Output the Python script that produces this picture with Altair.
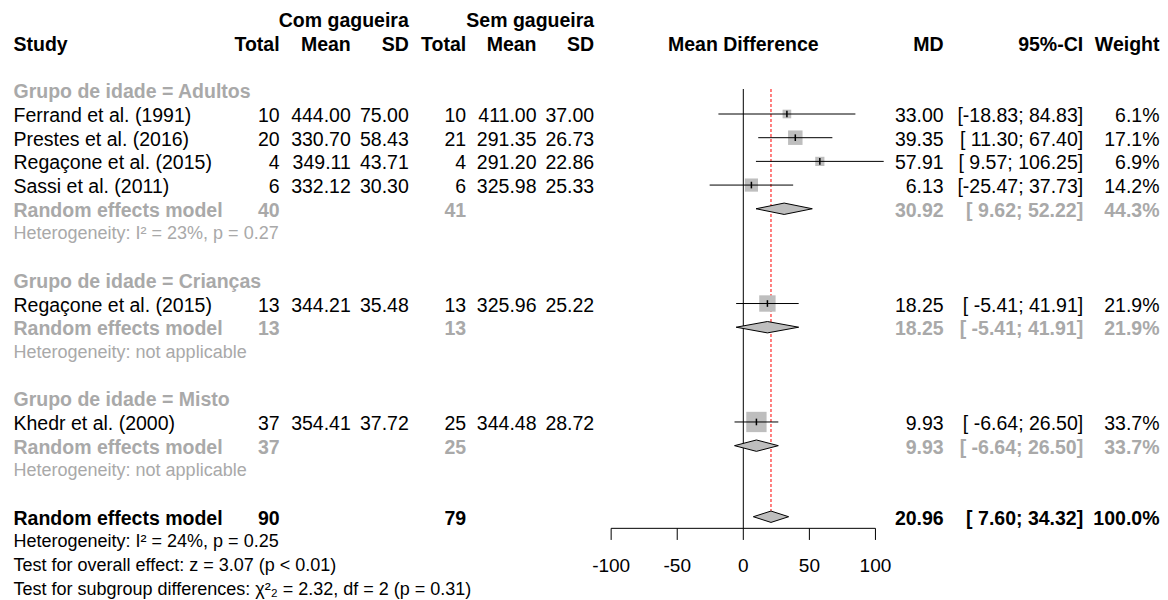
import altair as alt
import pandas as pd

# ---------------- data ----------------
study = ["Ferrand et al. (1991)", "Prestes et al. (2016)", "Regaçone et al. (2015)",
         "Sassi et al. (2011)", "Regaçone et al. (2015)", "Khedr et al. (2000)"]
study_group = ["Adultos", "Adultos", "Adultos", "Adultos", "Crianças", "Misto"]
n_e = [10, 20, 4, 6, 13, 37]
mean_e = [444.00, 330.70, 349.11, 332.12, 344.21, 354.41]
sd_e = [75.00, 58.43, 43.71, 30.30, 35.48, 37.72]
n_c = [10, 21, 4, 6, 13, 25]
mean_c = [411.00, 291.35, 291.20, 325.98, 325.96, 344.48]
sd_c = [37.00, 26.73, 22.86, 25.33, 25.22, 28.72]
md = [33.00, 39.35, 57.91, 6.13, 18.25, 9.93]
ci_lo = [-18.83, 11.30, 9.57, -25.47, -5.41, -6.64]
ci_hi = [84.83, 67.40, 106.25, 37.73, 41.91, 26.50]
weight = [6.1, 17.1, 6.9, 14.2, 21.9, 33.7]

groups = ["Adultos", "Crianças", "Misto"]
sub_ne = [40, 13, 37]
sub_nc = [41, 13, 25]
sub_md = [30.92, 18.25, 9.93]
sub_lo = [9.62, -5.41, -6.64]
sub_hi = [52.22, 41.91, 26.50]
sub_w = [44.3, 21.9, 33.7]
sub_het = ["Heterogeneity: I² = 23%, p = 0.27",
           "Heterogeneity: not applicable",
           "Heterogeneity: not applicable"]

all_ne, all_nc = 90, 79
all_md, all_lo, all_hi, all_w = 20.96, 7.60, 34.32, 100.0
footer = ["Heterogeneity: I² = 24%, p = 0.25",
          "Test for overall effect: z = 3.07 (p < 0.01)",
          "Test for subgroup differences: χ²₂ = 2.32, df = 2 (p = 0.31)"]

axis_ticks = [-100, -50, 0, 50, 100]

# ---------------- layout / style ----------------
W, H = 1152, 592
FONT = "Liberation Sans"
FS, FS_SMALL, FS_AXIS = 19.5, 18, 19
TEXT_DY = 2
BLACK, GRAY_TXT, SQ_GRAY = "#000000", "#A9A9A9", "#BEBEBE"

ROW0_PX, ROW_PX = 11.24, 23.69          # pixel position of row 0, row pitch
X0_PX, X_UNIT = 735.3, 1.3215            # pixel of MD = 0, px per MD unit
y_dom = [-ROW0_PX / ROW_PX, (H - ROW0_PX) / ROW_PX]
x_dom = [-X0_PX / X_UNIT, (W - X0_PX) / X_UNIT]
YS = alt.Scale(domain=y_dom, reverse=True, nice=False, zero=False)
XS = alt.Scale(domain=x_dom, nice=False, zero=False)

COLS = {  # column -> (x px, align)
    "study": (5.5, "left"), "ne": (271.6, "right"), "me": (342.8, "right"),
    "se": (400.8, "right"), "nc": (458.2, "right"), "mc": (528.5, "right"),
    "sc": (586.2, "right"), "plot": (X0_PX, "center"), "md": (935.7, "right"),
    "ci": (1075.2, "right"), "w": (1151.5, "right"),
}
STYLES = {  # style -> (bold, color, size)
    "head": (True, BLACK, FS), "study": (False, BLACK, FS),
    "group": (True, GRAY_TXT, FS), "rem_sub": (True, GRAY_TXT, FS),
    "het_sub": (False, GRAY_TXT, FS_SMALL), "rem_all": (True, BLACK, FS),
    "foot": (False, BLACK, FS_SMALL),
}


def ci_txt(lo, hi):
    return f"[{lo:6.2f}; {hi:6.2f}]"


cells = []
def cell(row, col, text, style):
    cells.append({"row": row, "col": col, "text": text, "style": style})

# headers
cell(0, "se", "Com gagueira", "head")
cell(0, "sc", "Sem gagueira", "head")
for c, t in [("study", "Study"), ("ne", "Total"), ("me", "Mean"), ("se", "SD"),
             ("nc", "Total"), ("mc", "Mean"), ("sc", "SD"), ("plot", "Mean Difference"),
             ("md", "MD"), ("ci", "95%-CI"), ("w", "Weight")]:
    cell(1, c, t, "head")

study_rows, diamonds = [], []
r = 3
first_row = r
for gi, g in enumerate(groups):
    cell(r, "study", f"Grupo de idade = {g}", "group")
    r += 1
    for i in range(len(study)):
        if study_group[i] != g:
            continue
        cell(r, "study", study[i], "study")
        cell(r, "ne", f"{n_e[i]}", "study")
        cell(r, "me", f"{mean_e[i]:.2f}", "study")
        cell(r, "se", f"{sd_e[i]:.2f}", "study")
        cell(r, "nc", f"{n_c[i]}", "study")
        cell(r, "mc", f"{mean_c[i]:.2f}", "study")
        cell(r, "sc", f"{sd_c[i]:.2f}", "study")
        cell(r, "md", f"{md[i]:.2f}", "study")
        cell(r, "ci", ci_txt(ci_lo[i], ci_hi[i]), "study")
        cell(r, "w", f"{weight[i]:.1f}%", "study")
        study_rows.append({"row": r, "md": md[i], "lo": ci_lo[i], "hi": ci_hi[i], "weight": weight[i]})
        r += 1
    cell(r, "study", "Random effects model", "rem_sub")
    cell(r, "ne", f"{sub_ne[gi]}", "rem_sub")
    cell(r, "nc", f"{sub_nc[gi]}", "rem_sub")
    cell(r, "md", f"{sub_md[gi]:.2f}", "rem_sub")
    cell(r, "ci", ci_txt(sub_lo[gi], sub_hi[gi]), "rem_sub")
    cell(r, "w", f"{sub_w[gi]:.1f}%", "rem_sub")
    diamonds.append((f"g{gi}", r, sub_lo[gi], sub_md[gi], sub_hi[gi]))
    r += 1
    cell(r, "study", sub_het[gi], "het_sub")
    r += 2

overall_row = r
cell(r, "study", "Random effects model", "rem_all")
cell(r, "ne", f"{all_ne}", "rem_all")
cell(r, "nc", f"{all_nc}", "rem_all")
cell(r, "md", f"{all_md:.2f}", "rem_all")
cell(r, "ci", ci_txt(all_lo, all_hi), "rem_all")
cell(r, "w", f"{all_w:.1f}%", "rem_all")
diamonds.append(("all", r, all_lo, all_md, all_hi))
for k, t in enumerate(footer):
    cell(r + 1 + k, "study", t, "foot")

cells_df = pd.DataFrame(cells)
Y_ROW = alt.Y("row:Q", scale=YS, axis=None)

layers = []
for (col, sty), sub in cells_df.groupby(["col", "style"]):
    xpx, align = COLS[col]
    bold, color, size = STYLES[sty]
    layers.append(
        alt.Chart(sub).mark_text(align=align, baseline="middle", font=FONT, fontSize=size,
                                 fontWeight="bold" if bold else "normal", color=color,
                                 dy=TEXT_DY)
        .encode(x=alt.value(xpx), y=Y_ROW, text="text:N")
    )

# ---------------- forest part ----------------
axis_row = overall_row + 0.49
tick_end = overall_row + 0.98
label_row = overall_row + 2.08
line_top = first_row - 0.055

zero_df = pd.DataFrame({"x": [0], "y1": [line_top], "y2": [axis_row]})
layers.append(alt.Chart(zero_df).mark_rule(color=BLACK, strokeWidth=1).encode(
    x=alt.X("x:Q", scale=XS, axis=None), y=alt.Y("y1:Q", scale=YS, axis=None), y2="y2:Q"))

ref_df = pd.DataFrame({"x": [all_md], "y1": [line_top], "y2": [overall_row - 0.25]})
layers.append(alt.Chart(ref_df).mark_rule(color="#FF0000", strokeWidth=1, strokeDash=[3, 2]).encode(
    x=alt.X("x:Q", scale=XS, axis=None), y=alt.Y("y1:Q", scale=YS, axis=None), y2="y2:Q"))

sdf = pd.DataFrame(study_rows)
layers.append(alt.Chart(sdf).mark_square(color=SQ_GRAY, opacity=1, filled=True).encode(
    x=alt.X("md:Q", scale=XS, axis=None), y=Y_ROW,
    size=alt.Size("weight:Q", scale=alt.Scale(domain=[0, 100], range=[0, 1225]), legend=None)))
layers.append(alt.Chart(sdf).mark_rule(color=BLACK, strokeWidth=1).encode(
    x=alt.X("lo:Q", scale=XS, axis=None), x2="hi:Q", y=Y_ROW))
layers.append(alt.Chart(sdf).transform_calculate(
    ya="datum.row - 0.14", yb="datum.row + 0.14").mark_rule(color=BLACK, strokeWidth=1.5).encode(
    x=alt.X("md:Q", scale=XS, axis=None), y=alt.Y("ya:Q", scale=YS, axis=None), y2="yb:Q"))

dpts = []
for did, row, lo, est, hi in diamonds:
    dpts += [{"id": did, "x": lo, "y1": row, "y2": row},
             {"id": did, "x": est, "y1": row - 0.24, "y2": row + 0.24},
             {"id": did, "x": hi, "y1": row, "y2": row}]
layers.append(alt.Chart(pd.DataFrame(dpts)).mark_area(
    fill=SQ_GRAY, stroke=BLACK, strokeWidth=1, opacity=1, interpolate="linear").encode(
    x=alt.X("x:Q", scale=XS, axis=None), y=alt.Y("y1:Q", scale=YS, axis=None), y2="y2:Q",
    detail="id:N"))

# drawn axis
ax_df = pd.DataFrame({"x1": [min(axis_ticks)], "x2": [max(axis_ticks)], "row": [axis_row]})
layers.append(alt.Chart(ax_df).mark_rule(color=BLACK, strokeWidth=1).encode(
    x=alt.X("x1:Q", scale=XS, axis=None), x2="x2:Q", y=Y_ROW))
tk_df = pd.DataFrame({"v": axis_ticks, "y1": [axis_row] * len(axis_ticks),
                      "y2": [tick_end] * len(axis_ticks),
                      "row": [label_row] * len(axis_ticks),
                      "label": [str(t) for t in axis_ticks]})
layers.append(alt.Chart(tk_df).mark_rule(color=BLACK, strokeWidth=1).encode(
    x=alt.X("v:Q", scale=XS, axis=None), y=alt.Y("y1:Q", scale=YS, axis=None), y2="y2:Q"))
layers.append(alt.Chart(tk_df).mark_text(align="center", baseline="middle", font=FONT,
                                         fontSize=FS_AXIS, color=BLACK).encode(
    x=alt.X("v:Q", scale=XS, axis=None), y=Y_ROW, text="label:N"))

chart = alt.layer(*layers).properties(
    width=W, height=H, padding=0, background="white",
    autosize=alt.AutoSizeParams(type="none"),
).configure_view(stroke=None)

chart.save("out.html", embed_options={"renderer": "svg", "actions": False})
